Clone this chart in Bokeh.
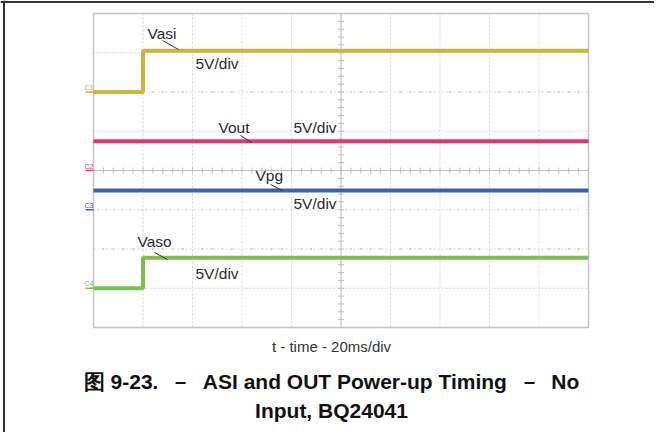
import numpy as np
from bokeh.plotting import figure
from bokeh.models import Range1d, Label
from bokeh.embed import file_html
from bokeh.resources import INLINE

# ---------------- data (read from the scope shot) ----------------
channels = ["Vasi", "Vout", "Vpg", "Vaso"]
channel_tags = ["C1", "C2", "C3", "C4"]
colors = ["#C9B63A", "#E8336F", "#3A62B2", "#7CC04B"]
time_ms = [0, 20, 20, 200]                # 20 ms/div, 10 div
vasi_v = [0.0, 0.0, 5.25, 5.25]
vout_v = [3.72, 3.72, 3.72, 3.72]
vpg_v = [2.45, 2.45, 2.45, 2.45]
vaso_v = [0.0, 0.0, 3.9, 3.9]
offsets_div = [2.0, 0.0, -1.0, -3.0]       # channel reference levels (div)
volts_per_div = 5
ms_per_div = 20
x_divs = 10
y_divs = 8
series = [vasi_v, vout_v, vpg_v, vaso_v]

# pixel -> data helpers (scope screen: x 93..588, y 13..327)
def dx(px):
    return (px - 93) / 495 * (ms_per_div * x_divs)

def dy(py):
    return y_divs / 2 - (py - 13) / 39.25

W, H = 654, 432
FONT = "Liberation Sans"
NB = "\u00a0"

p = figure(frame_width=W, frame_height=H, min_border=0,
           x_range=Range1d(dx(0), dx(W)), y_range=Range1d(dy(H), dy(0)),
           x_axis_type=None, y_axis_type=None, title=None,
           output_backend="svg", toolbar_location=None)
p.background_fill_color = "white"
p.border_fill_color = "white"
p.outline_line_color = None
p.xgrid.visible = False
p.ygrid.visible = False

xmax = ms_per_div * x_divs
ymax = y_divs / 2
gx = np.arange(ms_per_div, xmax, ms_per_div)
gy = np.arange(-ymax + 1, ymax, 1.0)

# dashed division grid
p.segment(gx, np.full_like(gx, -ymax), gx, np.full_like(gx, ymax),
          line_color="#d6d6d6", line_dash="2 2", line_width=1)
p.segment(np.zeros_like(gy), gy, np.full_like(gy, xmax), gy,
          line_color="#d6d6d6", line_dash="2 2", line_width=1)

# centre axes with minor ticks
p.segment([0, xmax / 2], [0, -ymax], [xmax, xmax / 2], [0, ymax],
          line_color="#c0c0c0", line_width=1)
xt = np.arange(0, xmax + 0.01, ms_per_div / 5)
p.scatter(xt, np.zeros_like(xt), marker="dash", size=6, angle=np.pi / 2,
          line_color="#c0c0c0", line_width=1)
yt = np.arange(-ymax, ymax + 0.01, 0.2)
p.scatter(np.full_like(yt, xmax / 2), yt, marker="dash", size=6,
          line_color="#c0c0c0", line_width=1)

# dotted rows at +/-2.5 div
xd = np.array([x for x in np.arange(4, xmax, 4) if x % ms_per_div != 0])
for yrow in (2.5, -2.5):
    p.scatter(xd, np.full_like(xd, yrow), marker="square", size=1.5,
              fill_color="#c4c4c4", line_color=None)

# screen outline
p.quad(left=[0], right=[xmax], bottom=[-ymax], top=[ymax],
       fill_color=None, line_color="#c4c4c4", line_width=1.5)

# traces
for vals, off, col in zip(series, offsets_div, colors):
    ydiv = [v / volts_per_div + off for v in vals]
    p.line(time_ms, ydiv, line_color=col, line_width=4)

# channel reference markers at left
for tag, off, col in zip(channel_tags, offsets_div, colors):
    p.add_layout(Label(x=dx(84), y=off, text=tag, text_font=FONT,
                       text_font_size="7px", text_color=col,
                       text_align="left", text_baseline="bottom", y_offset=1))
p.segment([dx(85)] * 4, offsets_div, [dx(93)] * 4, offsets_div,
          line_color=colors, line_width=1.5)

# trace annotations
TXT = "#2b2b2b"
labels = [
    ("Vasi", 147, 33), ("5V/div", 195, 63),
    ("Vout", 218, 127), ("5V/div", 293, 127),
    ("Vpg", 255, 175), ("5V/div", 293, 203),
    ("Vaso", 137, 241), ("5V/div", 195, 273),
]
for t, px, py in labels:
    p.add_layout(Label(x=dx(px), y=dy(py), text=t, text_font=FONT,
                       text_font_size="15.5px", text_color=TXT,
                       text_align="left", text_baseline="middle"))

leaders = [((162, 40), (178, 49)), ((240, 135), (251, 142)),
           ((270, 184), (282, 190)), ((154, 252), (167, 259))]
p.segment([dx(a[0]) for a, b in leaders], [dy(a[1]) for a, b in leaders],
          [dx(b[0]) for a, b in leaders], [dy(b[1]) for a, b in leaders],
          line_color="#333333", line_width=1)

# caption and figure title
title_1 = "图 9-23." + NB * 2 + "－" + NB * 2 + "ASI and OUT Power-up Timing" + NB * 2 + "－" + NB * 2 + "No"
title_2 = "Input, BQ24041"
p.add_layout(Label(x=dx(331), y=dy(346), text="t - time - 20ms/div", text_font=FONT,
                   text_font_size="15px", text_color="#333333",
                   text_align="center", text_baseline="middle"))
p.add_layout(Label(x=dx(331), y=dy(381), text=title_1,
                   text_font=FONT, text_font_size="21px", text_font_style="bold",
                   text_color="#111111", text_align="center", text_baseline="middle"))
p.add_layout(Label(x=dx(331), y=dy(410), text=title_2,
                   text_font=FONT, text_font_size="21px", text_font_style="bold",
                   text_color="#111111", text_align="center", text_baseline="middle"))

# page frame lines (top and left)
p.segment([dx(0), dx(3.5)], [dy(1.5), dy(0)], [dx(W), dx(3.5)], [dy(1.5), dy(H)],
          line_color="#333333", line_width=2)

open("out.html", "w").write(file_html(p, INLINE))
